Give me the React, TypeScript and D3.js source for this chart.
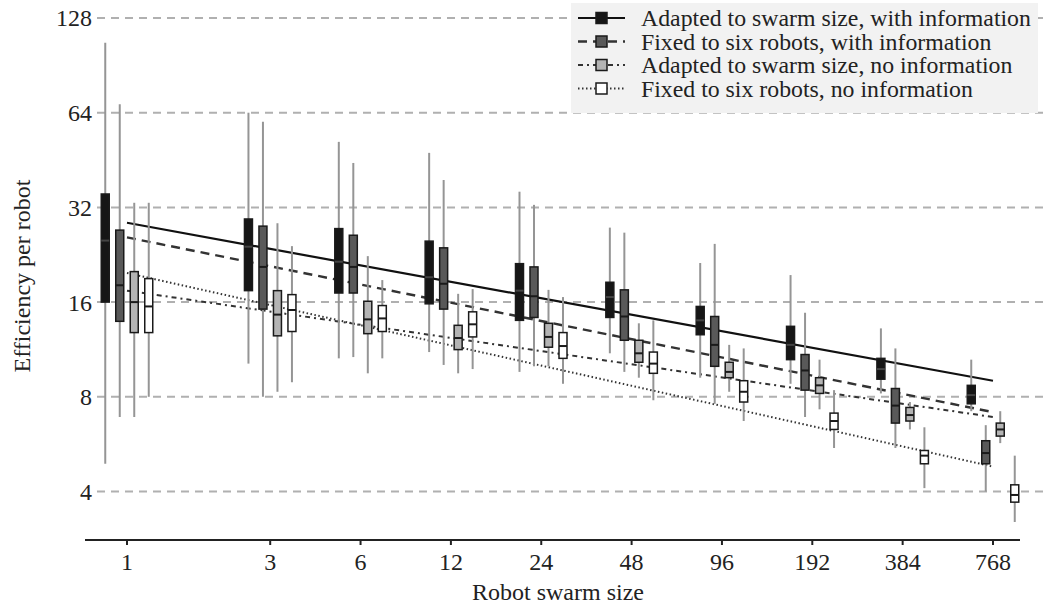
import React from "react";
import * as d3 from "d3";

const sizes = [1, 3, 6, 12, 24, 48, 96, 192, 384, 768];
const yTicks = [4, 8, 16, 32, 64, 128];

// [low whisker, Q1, median, Q3, high whisker]
const adaptedInfo = [
  [4.9, 16.0, 25.1, 35.3, 106.7],
  [10.2, 17.4, 24.0, 29.4, 64.0],
  [10.6, 17.1, 21.5, 27.4, 51.7],
  [11.1, 15.8, 19.2, 25.0, 47.7],
  [9.6, 14.0, 17.4, 21.2, 35.9],
  [11.0, 14.3, 16.6, 18.5, 27.6],
  [9.2, 12.6, 14.0, 15.5, 21.3],
  [8.8, 10.5, 11.7, 13.4, 19.5],
  [8.2, 9.1, 9.8, 10.6, 13.2],
  [7.2, 7.6, 8.1, 8.7, 10.5],
];
const fixedInfo = [
  [6.9, 13.9, 18.1, 27.1, 68.1],
  [8.0, 15.2, 20.7, 27.9, 59.9],
  [10.7, 17.1, 20.7, 26.1, 44.3],
  [10.1, 15.2, 18.3, 23.8, 39.1],
  [10.0, 14.3, 16.7, 20.7, 32.6],
  [9.6, 12.1, 14.4, 17.5, 26.6],
  [7.6, 10.0, 11.7, 14.4, 24.5],
  [6.9, 8.4, 9.7, 10.9, 14.8],
  [5.5, 6.6, 7.5, 8.5, 11.4],
  [4.0, 4.9, 5.3, 5.8, 6.5],
];
const adaptedNoInfo = [
  [6.9, 12.8, 16.0, 20.0, 33.1],
  [8.3, 12.5, 14.6, 17.4, 28.5],
  [9.5, 12.7, 14.1, 16.1, 22.4],
  [9.5, 11.3, 12.3, 13.5, 17.0],
  [10.0, 11.5, 12.4, 13.7, 17.5],
  [9.2, 10.3, 11.0, 12.1, 13.7],
  [8.3, 9.2, 9.6, 10.3, 11.7],
  [7.3, 8.2, 8.7, 9.2, 10.5],
  [6.3, 6.7, 7.0, 7.4, 7.7],
  [5.7, 6.0, 6.3, 6.6, 7.2],
];
const fixedNoInfo = [
  [8.0, 12.8, 15.5, 19.0, 33.1],
  [8.9, 12.9, 15.1, 16.9, 24.1],
  [10.6, 12.9, 14.2, 15.6, 18.8],
  [9.8, 12.4, 13.6, 14.9, 17.6],
  [8.8, 10.6, 11.6, 12.8, 16.6],
  [7.8, 9.5, 10.2, 11.1, 14.0],
  [6.7, 7.7, 8.3, 9.0, 11.4],
  [5.5, 6.3, 6.7, 7.1, 8.4],
  [4.1, 4.9, 5.2, 5.4, 6.4],
  [3.2, 3.7, 3.9, 4.2, 5.2],
];

// regression fit values at swarm size 1 and 768
const fitAdaptedInfo = [28.6, 9.0];
const fitFixedInfo = [25.7, 7.15];
const fitAdaptedNoInfo = [17.4, 6.9];
const fitFixedNoInfo = [19.8, 4.8];

const seriesLabels = [
  "Adapted to swarm size, with information",
  "Fixed to six robots, with information",
  "Adapted to swarm size, no information",
  "Fixed to six robots, no information",
];

const FONT = "'Liberation Serif', 'Times New Roman', serif";

export default function App() {
  const W = 1048;
  const H = 605;
  const x = d3.scaleLog().base(2).domain([1, 768]).range([127, 993]);
  const y = d3.scaleLog().base(2).domain([4, 128]).range([491.5, 18]);

  const series = [
    { data: adaptedInfo, fit: fitAdaptedInfo, fill: "#161616", dash: "", lw: 2.2 },
    { data: fixedInfo, fit: fitFixedInfo, fill: "#595959", dash: "9,6", lw: 2.4 },
    { data: adaptedNoInfo, fit: fitAdaptedNoInfo, fill: "#b4b4b4", dash: "5,4,2,4", lw: 2 },
    { data: fixedNoInfo, fit: fitFixedNoInfo, fill: "#ffffff", dash: "1.5,2.5", lw: 2 },
  ];
  const offsets = [-21.75, -7.25, 7.25, 21.75];
  const bw = 8;
  const line = d3
    .line<[number, number]>()
    .x((d) => x(d[0]))
    .y((d) => y(d[1]));

  return (
    <svg
      width={W}
      height={H}
      style={{ position: "absolute", left: 0, top: 0, background: "#fff" }}
      fontFamily={FONT}
    >
      {/* gridlines */}
      {yTicks.map((t) => (
        <g key={t}>
          <line
            x1={97}
            x2={W}
            y1={y(t)}
            y2={y(t)}
            stroke="#b0b0b0"
            strokeWidth={2}
            strokeDasharray="8,6"
          />
          <text x={92} y={y(t)} dy="0.35em" textAnchor="end" fontSize={24} fill="#222">
            {t}
          </text>
        </g>
      ))}

      {/* fit lines */}
      {series.map((s, i) => (
        <path
          key={"fit" + i}
          d={line([
            [1, s.fit[0]],
            [768, s.fit[1]],
          ]) || ""}
          fill="none"
          stroke={i === 0 ? "#111" : "#333"}
          strokeWidth={s.lw}
          strokeDasharray={s.dash}
        />
      ))}

      {/* boxes */}
      {series.map((s, i) =>
        s.data.map((d, j) => {
          const cx = x(sizes[j]) + offsets[i];
          return (
            <g key={"b" + i + "-" + j}>
              <line x1={cx} x2={cx} y1={y(d[0])} y2={y(d[4])} stroke="#959595" strokeWidth={2} />
              <rect
                x={cx - bw / 2}
                y={y(d[3])}
                width={bw}
                height={y(d[1]) - y(d[3])}
                fill={s.fill}
                stroke="#1a1a1a"
                strokeWidth={1.5}
              />
              <line
                x1={cx - bw / 2}
                x2={cx + bw / 2}
                y1={y(d[2])}
                y2={y(d[2])}
                stroke={i === 0 ? "#444" : "#1a1a1a"}
                strokeWidth={2}
              />
            </g>
          );
        })
      )}

      {/* x axis */}
      <line x1={85} x2={1020} y1={540} y2={540} stroke="#222" strokeWidth={2} />
      {sizes.map((s) => (
        <g key={"xt" + s}>
          <line x1={x(s)} x2={x(s)} y1={540} y2={545} stroke="#222" strokeWidth={2} />
          <text x={x(s)} y={570} textAnchor="middle" fontSize={24} fill="#222">
            {s}
          </text>
        </g>
      ))}
      <text x={558} y={600} textAnchor="middle" fontSize={24} fill="#222">
        Robot swarm size
      </text>
      <text
        transform={`translate(30,${276}) rotate(-90)`}
        textAnchor="middle"
        fontSize={24}
        fill="#222"
      >
        Efficiency per robot
      </text>

      {/* legend */}
      <rect x={571} y={3} width={467} height={110} fill="#f2f2f2" />
      {series.map((s, i) => {
        const ly = 18 + i * 23.5;
        return (
          <g key={"lg" + i}>
            <line
              x1={578}
              x2={625}
              y1={ly}
              y2={ly}
              stroke={i === 0 ? "#111" : "#333"}
              strokeWidth={s.lw}
              strokeDasharray={s.dash}
            />
            <rect x={596} y={ly - 5.5} width={11} height={11} fill={s.fill} stroke="#1a1a1a" strokeWidth={1.5} />
            <text x={641} y={ly} dy="0.35em" fontSize={23.8} fill="#222">
              {seriesLabels[i]}
            </text>
          </g>
        );
      })}
    </svg>
  );
}
